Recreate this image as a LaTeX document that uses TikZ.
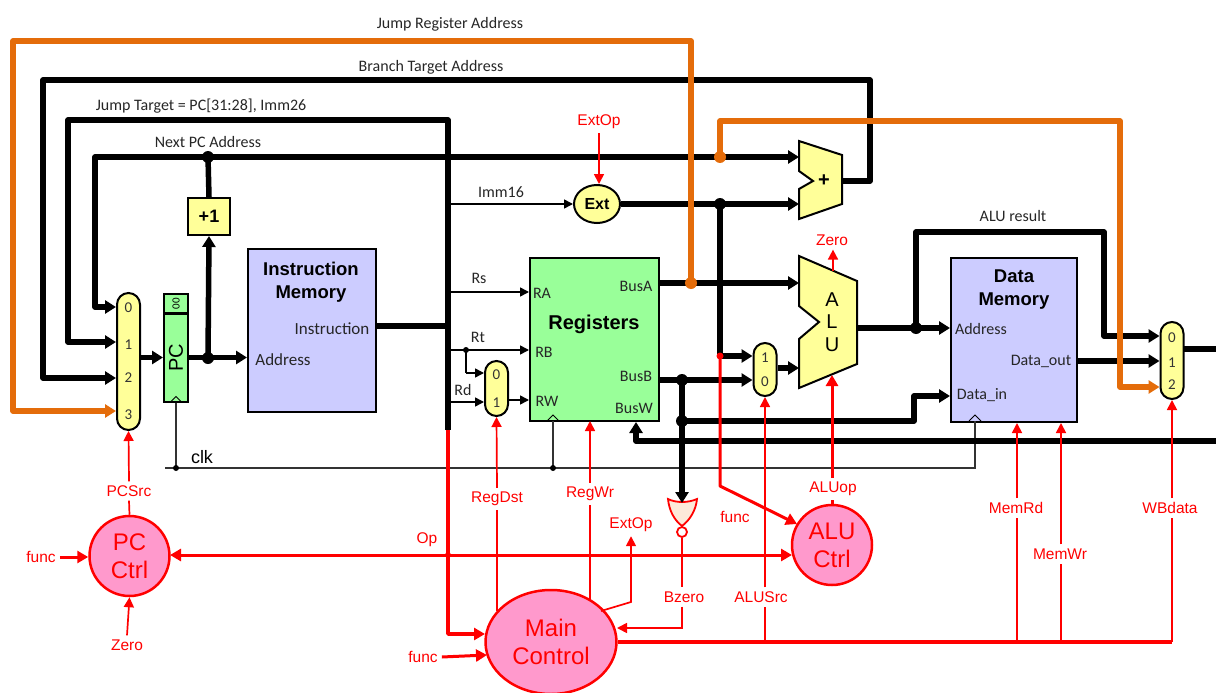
\documentclass[tikz,border=0pt]{standalone}
\usepackage{fontspec}
\setmainfont{Carlito}
\newfontfamily\arialfont{Liberation Sans}
\usetikzlibrary{
    arrows.meta,
    shapes.geometric
}
\definecolor{wireorange}{HTML}{E46C0A}
\definecolor{muxyellow}{HTML}{FFFF99}
\definecolor{regsgreen}{HTML}{99FF99}
\definecolor{memlilac}{HTML}{CCCCFF}
\definecolor{ctrlpink}{HTML}{FF99CC}
\definecolor{norpeach}{HTML}{FDE9D9}
\tikzset{
    bus/.style={line width=5.5pt,line join=round},
    busarrow/.style={bus,-{Triangle[length=11pt,width=13pt]}},
    busboth/.style={bus,{Triangle[length=11pt,width=13pt]}-{Triangle[length=11pt,width=13pt]}},
    orangebus/.style={bus,draw=wireorange},
    orangearrow/.style={orangebus,-{Triangle[length=11pt,width=13pt]}},
    thinarrow/.style={line width=1.6pt,-{Triangle[length=9pt,width=9pt]}},
    clkwire/.style={line width=1.1pt,draw=black!80},
    ctl/.style={line width=1.7pt,draw=red},
    ctlarrow/.style={ctl,-{Triangle[length=10pt,width=10pt]}},
    ctlbus/.style={line width=3pt,draw=red,line join=round},
    ctlbusarrow/.style={ctlbus,-{Triangle[length=11pt,width=12pt]}},
    ctlboth/.style={ctlbus,{Triangle[length=11pt,width=12pt]}-{Triangle[length=11pt,width=12pt]}},
    muxbox/.style={draw,line width=2pt,fill=muxyellow,rounded corners=11.5pt,
        minimum width=23pt,inner sep=0pt},
    muxnum/.style={font=\fontsize{15}{17}\selectfont,text=black!80,inner sep=0pt},
    block/.style={draw,line width=2pt,inner sep=0pt},
    lbl/.style={font=\fontsize{16}{18}\selectfont,text=black!85,inner sep=1pt},
    redlbl/.style={font=\arialfont\fontsize{15.5}{17}\selectfont,text=red,inner sep=4pt},
    title/.style={font=\arialfont\bfseries\fontsize{18.5}{23}\selectfont,align=center,inner sep=0pt},
    ctrl/.style={draw=red,line width=2.5pt,fill=ctrlpink,text=red,align=center,inner sep=0pt,
        font=\arialfont\fontsize{24}{28}\selectfont},
    dot/.style={circle,fill,inner sep=0pt,minimum size=12pt},
    smalldot/.style={circle,fill,inner sep=0pt,minimum size=6pt}
}

\begin{document}
\begin{tikzpicture}[x=1pt,y=-1pt]
    \useasboundingbox (0,0) rectangle (1216,693);

    % blocks
    \node[block,fill=muxyellow,minimum width=42pt,minimum height=37pt,font=\arialfont\bfseries\fontsize{18}{20}\selectfont] (plusone) at (209,216.5) {+1};
    \node[block,fill=regsgreen,minimum width=24pt,minimum height=88pt] (pc) at (176,357.5) {};
    \node[block,fill=regsgreen,minimum width=24pt,minimum height=19pt] (pclow) at (176,303.5) {};
    \node[rotate=90,font=\arialfont\fontsize{20}{22}\selectfont,inner sep=0pt] (pctext) at (176,358) {PC};
    \node[rotate=90,font=\fontsize{11}{12}\selectfont,inner sep=0pt] (pclowtext) at (176,303.5) {00};
    \node[block,fill=memlilac,minimum width=128pt,minimum height=163pt] (imem) at (312,330.5) {};
    \node[title] (imemtext) at (311,282.5) {Instruction\\Memory};
    \node[lbl,font=\fontsize{17}{19}\selectfont] (imemout) at (332,329) {Instruction};
    \node[lbl,font=\fontsize{17}{19}\selectfont] (imemin) at (283,360) {Address};
    \node[block,fill=regsgreen,minimum width=129pt,minimum height=163pt] (regs) at (594.5,339.5) {};
    \node[title,font=\arialfont\bfseries\fontsize{20}{23}\selectfont] (regstext) at (594,324) {Registers};
    \node[block,fill=memlilac,minimum width=126pt,minimum height=164pt] (dmem) at (1014,340) {};
    \node[title] (dmemtext) at (1014,290) {Data\\Memory};
    \node[ellipse,draw,line width=2pt,fill=muxyellow,minimum width=46pt,minimum height=38pt,inner sep=0pt,
        font=\arialfont\bfseries\fontsize{16}{18}\selectfont] (ext) at (597,204) {Ext};
    \foreach \n/\t/\x/\y in {lra/RA/542/293,lrb/RB/544/352,lrw/RW/547/401,lbusa/BusA/636/286,
        lbusb/BusB/636/376,lbusw/BusW/634/408,ldaddr/Address/981/329,ldout/Data\_out/1041/361,ldin/Data\_in/982/395}
        \node[lbl] (\n) at (\x,\y) {\t};

    % adder and alu
    \draw[line width=2pt,fill=muxyellow,line join=miter] (799,141) -- (842,155) -- (842,204) -- (799,219)
        -- (799,189) -- (813,181) -- (799,171) -- cycle;
    \node[font=\arialfont\bfseries\fontsize{20}{22}\selectfont,inner sep=0pt] (adder) at (824,181) {+};
    \draw[line width=2pt,fill=muxyellow,line join=miter] (799,256) -- (857,281) -- (857,364) -- (799,388)
        -- (799,339) -- (819,322) -- (799,306) -- cycle;
    \node[font=\arialfont\fontsize{20}{22.5}\selectfont,align=center,inner sep=0pt] (alu) at (832,322) {A\\L\\U};

    % muxes
    \node[muxbox,minimum height=137pt] (pcmux) at (128.5,361.5) {};
    \node[muxbox,minimum height=55pt] (rdmux) at (496.5,388.5) {};
    \node[muxbox,minimum height=53pt] (srcmux) at (765,369.5) {};
    \node[muxbox,minimum height=77pt] (wbmux) at (1172,360.5) {};
    \foreach \n/\d/\x/\y in {pc0/0/128.5/308,pc1/1/128.5/345,pc2/2/128.5/378,pc3/3/128.5/415,
        rd0/0/496.5/375,rd1/1/496.5/403,src1/1/765/358,src0/0/765/382,
        wb0/0/1172/338,wb1/1/1172/363,wb2/2/1172/385}
        \node[muxnum] (\n) at (\x,\y) {\d};

    % control units
    \node[ctrl,circle,minimum size=80pt] (pcctrl) at (129.5,556) {PC\\Ctrl};
    \node[ctrl,circle,minimum size=80pt] (aluctrl) at (832,545) {ALU\\Ctrl};
    \node[ctrl,ellipse,minimum width=131pt,minimum height=104pt] (mainctrl) at (551,642) {Main\\Control};

    % nor gate
    \draw[red,line width=1.8pt,fill=norpeach] (668,499) .. controls (676,503) and (688,503) .. (697,499)
        .. controls (696,510) and (690,520) .. (682,526) .. controls (674,520) and (669,510) .. (668,499) -- cycle;
    \node[circle,draw=red,line width=1.8pt,fill=white,minimum size=10pt,inner sep=0pt] (norbub) at (682,532) {};
    \coordinate (nortop) at (682,503);

    % bend points and free ends
    \foreach \n/\x/\y in {bjra/13/411,bjrb/13/41,bjrc/691/41,bjrd/691/283,
        brna/43/378,brnb/43/80,brnc/870/80,brnd/870/181,addsum/842/181,
        jmpa/68/342,jmpb/68/120,jmpc/448/120,jmpd/448/430,
        nxta/95/307,nxtb/95/157,nxtc/799/157,nxtd/208/157,
        pcout/208/358,instr/448/326,imma/450/204,
        rsa/448/292,rta/448/350,rtb/466/350,rtc/466/373,rdin/448/402,rdout/509/400,
        exta/799/204,extj/720/204,extb/720/356,busa/799/283,busb/659/380,busbj/682/380,busbk/682/421,
        aluin/799/368,aluout/857/328,resj/916/328,resa/916/232,resb/1104/232,resc/1104/336,
        oraa/720/157,orab/720/121,orac/1120/121,orad/1120/387,
        dout/1077/361,wbsel/1184/349,wbout/1216/349,bwa/1216/441,bwb/636/441,bwc/636/422,
        dina/914/421,dinb/914/396,clka/165/468,clkb/975/468,clkc/975/421,clkd/553/421,
        bzb/682/628,bzc/617/628,extc/631/602,exte/601/611,
        mca/497/611,mcb/590/601,mcc/765/642,mcd/1017/642,mce/1061/642,mcf/1172/642,
        opl/170/555,opr/792/555,opj/448/555,funa/487/655,fnc/720/486,fnd/797/524,
        buscorner/448/634,busin/485/634,
        alubot/832/375,aluz/833/271,regwr/590/421}
        {\coordinate (\n) at (\x,\y);}

    % labels
    \foreach \n/\t/\x/\y in {ljr/Jump Register Address/450/24,lbr/Branch Target Address/431/67,
        ljt/{Jump Target = PC[31:28], Imm26}/201/106,lnx/Next PC Address/208/142,limm/Imm16/501/192,
        lrs/Rs/479/278,lrt/Rt/478/337,lrd/Rd/463/390,lres/ALU result/1013/216}
        \node[lbl] (\n) at (\x,\y) {\t};
    \node[font=\arialfont\fontsize{18}{20}\selectfont,inner sep=0pt] (lclk) at (202,457) {clk};
    \foreach \n/\t/\x/\y in {lextop/ExtOp/599/122,lzero/Zero/832/240,lpcsrc/PCSrc/129/491,lfunca/func/41/557,
        lzerob/Zero/127/645,lregdst/RegDst/497/499,lregwr/RegWr/590/494,lextb/ExtOp/631/525,lop/Op/427/540,
        lbz/Bzero/684/597,lalusrc/ALUSrc/761/597,lfuncb/func/735/517,laluop/ALUop/833/489,lfuncc/func/423/657,
        lmemrd/MemRd/1016/508,lmemwr/MemWr/1060/554,lwb/WBdata/1170/508}
        \node[redlbl] (\n) at (\x,\y) {\t};

    % clock
    \draw[clkwire] (clka) -- (clkb) -- (clkc);
    \draw[clkwire] (pc.south) -- (pc.south |- clka);
    \draw[clkwire] (clkd) -- (clkd |- clka);
    \foreach \n in {pc.south,clkd,clkc}
        \draw[line width=1pt] (\n) ++(-6,0) -- ++(6,-6) -- ++(6,6);

    % data buses
    \draw[busboth] (pcmux.west |- nxta) -- (nxta) -- (nxtb) -- (nxtc);
    \draw[busarrow] (addsum) -- (brnd) -- (brnc) -- (brnb) -- (brna) -- (pcmux.west |- brna);
    \draw[busarrow] (jmpd) -- (jmpc) -- (jmpb) -- (jmpa) -- (pcmux.west |- jmpa);
    \draw[busarrow] (pcmux.east |- pc) -- (pc.west);
    \draw[busarrow] (pc.east) -- (imem.west |- pc);
    \draw[busarrow] (pcout) -- (plusone.south);
    \draw[bus] (plusone.north) -- (nxtd);
    \draw[bus] (imem.east |- instr) -- (instr);
    \draw[thinarrow] (imma) -- (ext.west);
    \draw[thinarrow] (rsa) -- (regs.west |- rsa);
    \draw[thinarrow] (rta) -- (regs.west |- rta);
    \draw[line width=1.6pt] (rtb) -- (rtc);
    \draw[thinarrow] (rtc) -- (rdmux.west |- rtc);
    \draw[thinarrow] (rdin) -- (rdmux.west |- rdin);
    \draw[thinarrow] (rdout) -- (regs.west |- rdout);
    \draw[busarrow] (ext.east) -- (exta);
    \draw[bus] (extj) -- (extb);
    \draw[busarrow] (extb) -- (srcmux.west |- extb);
    \draw[busarrow] (regs.east |- busa) -- (busa);
    \draw[busarrow] (busb) -- (srcmux.west |- busb);
    \draw[busarrow] (busbj) -- (nortop);
    \draw[busarrow] (busbk) -- (dina) -- (dinb) -- (dmem.west |- dinb);
    \draw[busarrow] (bwa) -- (bwb) -- (bwc);
    \draw[busarrow] (srcmux.east |- aluin) -- (aluin);
    \draw[busarrow] (aluout) -- (dmem.west |- aluout);
    \draw[busarrow] (resj) -- (resa) -- (resb) -- (resc) -- (wbmux.west |- resc);
    \draw[busarrow] (dout) -- (wbmux.west |- dout);
    \draw[bus] (wbsel) -- (wbout);
    \draw[orangearrow] (bjrd) -- (bjrc) -- (bjrb) -- (bjra) -- (pcmux.west |- bjra);
    \draw[orangearrow] (oraa) -- (orab) -- (orac) -- (orad) -- (wbmux.west |- orad);

    % control wires
    \draw[ctlbusarrow,line width=3.5pt] (jmpd) -- (buscorner) -- (busin);
    \draw[ctlboth] (opl) -- (opr);
    \draw[ctlbusarrow] (extb) -- (fnc) -- (fnd);
    \draw[ctlbusarrow] (lfunca.east) -- (pcctrl.west |- lfunca);
    \draw[ctlbusarrow] (lfuncc.east) -- (funa);
    \draw[ctlarrow] (lpcsrc.north) -- (pcmux.south);
    \draw[ctl] (lpcsrc.south) -- (pcctrl.north);
    \draw[ctlarrow] (lzerob.north) -- (pcctrl.south);
    \draw[ctlarrow] (lextop.south) -- (lextop.south |- ext.north);
    \draw[ctlarrow] (aluz) -- (lzero.south -| aluz);
    \draw[ctlarrow] (lregdst.north) -- (rdmux.south);
    \draw[ctl] (mca) -- (lregdst.south);
    \draw[ctlarrow] (lregwr.north) -- (regwr);
    \draw[ctl] (mcb) -- (lregwr.south);
    \draw[ctlarrow] (exte) -- (extc) -- (lextb.south);
    \draw[ctl] (norbub.south) -- (lbz.north -| norbub);
    \draw[ctlarrow] (lbz.south -| norbub) -- (bzb) -- (bzc);
    \draw[ctlbus,line width=4.5pt] (mainctrl.east) -- (mcf);
    \draw[ctl] (mcc) -- (lalusrc.south -| mcc);
    \draw[ctlarrow] (lalusrc.north -| mcc) -- (srcmux.south);
    \draw[ctl] (mcd) -- (lmemrd.south -| mcd);
    \draw[ctlarrow] (lmemrd.north -| mcd) -- (mcd |- dmem.south);
    \draw[ctl] (mce) -- (lmemwr.south -| mce);
    \draw[ctlarrow] (lmemwr.north -| mce) -- (mce |- dmem.south);
    \draw[ctl] (mcf) -- (lwb.south -| mcf);
    \draw[ctlarrow] (lwb.north -| mcf) -- (wbmux.south);
    \draw[ctlbus] (aluctrl.north) -- (laluop.south -| aluctrl);
    \draw[ctlbusarrow] (laluop.north -| aluctrl) -- (alubot);

    % junction dots
    \foreach \n in {nxtd,pcout,extj,busbj,busbk,resj}
        \node[dot] (dot\n) at (\n) {};
    \foreach \n in {rtb}
        \node[smalldot] (dot\n) at (\n) {};
    \node[smalldot] (dotclka) at (pc.south |- clka) {};
    \node[smalldot] (dotclkd) at (clkd |- clka) {};
    \foreach \n in {oraa,bjrd}
        \node[dot,fill=wireorange] (dot\n) at (\n) {};
    \node[smalldot,fill=red,minimum size=7pt] (dotextb) at (extb) {};
    \node[smalldot,fill=red] (dotopj) at (opj) {};
\end{tikzpicture}
\end{document}
